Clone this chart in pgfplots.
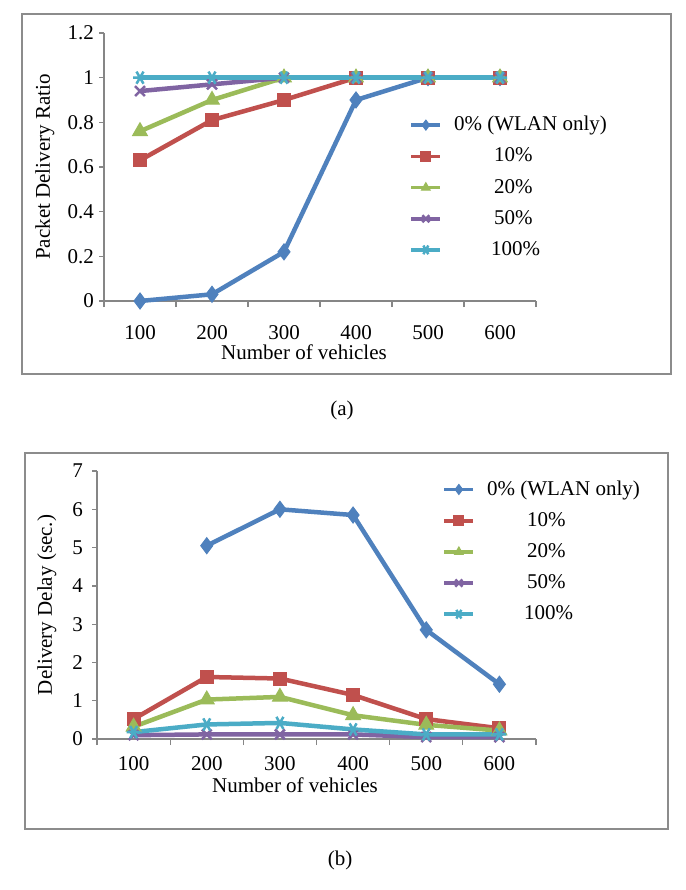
\documentclass[border=0pt]{standalone}
\usepackage{fontspec}
\setmainfont{Liberation Serif}
\usepackage{pgfplots}
\pgfplotsset{compat=1.18}
\definecolor{sblue}{HTML}{4F81BD}
\definecolor{sred}{HTML}{C0504D}
\definecolor{sgreen}{HTML}{9BBB59}
\definecolor{spurple}{HTML}{8064A2}
\definecolor{scyan}{HTML}{4BACC6}
\definecolor{axisgray}{HTML}{868686}
\definecolor{framegray}{HTML}{8C8C8C}

\pgfplotsset{
  excel/.style={
    scale only axis,
    axis lines*=left,
    axis line style={axisgray, line width=1.3pt},
    xmin=-0.5, xmax=5.5,
    xtick={0,...,5},
    xticklabels={100,200,300,400,500,600},
    major x tick style={draw=none},
    minor xtick={-0.5,0.5,...,5.5},
    minor x tick style={axisgray, line width=1.3pt},
    minor tick length=6pt,
    major tick length=5pt,
    y tick style={axisgray, line width=1.3pt},
    tick align=outside,
    /pgf/number format/assume math mode=true,
    tick label style={font=\fontsize{21}{25}\selectfont},
    label style={font=\fontsize{21}{25}\selectfont},
    xlabel={Number of vehicles},
    clip=false,
    every axis plot/.append style={line width=4.5pt},
    legend cell align=left,
    legend image code/.code={
      \draw[mark repeat=2, mark phase=2, #1, line width=3.5pt, mark size=5pt]
        plot coordinates {(0pt,0pt) (14.5pt,0pt) (29pt,0pt)};},
    legend style={draw=none, fill=none, anchor=north west,
      font=\fontsize{21}{25}\selectfont, row sep=10pt,
      /tikz/every odd column/.append style={column sep=10pt}},
  },
  s0/.style={sblue, mark=diamond*, mark size=8pt, mark options={solid, line width=1pt}},
  s1/.style={sred, mark=square*, mark size=6.5pt, mark options={solid, line width=1pt}},
  s2/.style={sgreen, mark=triangle*, mark size=8.5pt, mark options={solid, line width=1pt}},
  s3/.style={spurple, mark=x, mark size=7pt, mark options={solid, line width=2.5pt}},
  s4/.style={scyan, mark=asterisk, mark size=7pt, mark options={solid, rotate=90, line width=2.5pt}},
}

\begin{document}
\fontsize{21}{25}\selectfont
\begin{tikzpicture}[x=1pt, y=1pt, font=\fontsize{21}{25}\selectfont]
\path[use as bounding box, fill=white] (0,0) rectangle (685,-890);
\draw[framegray, line width=1.4pt] (22,-14) rectangle (671,-374);
\draw[framegray, line width=1.4pt] (25,-453) rectangle (668,-829);
\node at (342,-410) {(a)};
\node at (340,-860) {(b)};

% (a) packet delivery ratio
\begin{axis}[excel,
    at={(104pt,-301pt)}, anchor=south west,
    width=432pt, height=268pt,
    ymin=0, ymax=1.2,
    ytick={0,0.2,0.4,0.6,0.8,1,1.2},
    yticklabels={0,0.2,0.4,0.6,0.8,1,1.2},
    ylabel={Packet Delivery Ratio},
    ylabel style={at={(axis description cs:-0.137,0.5)}, anchor=center},
    xlabel style={at={(axis description cs:0.463,-0.19)}, anchor=center},
    xticklabel style={yshift=-12pt},
    yticklabel style={xshift=2pt},
    legend style={at={(axis description cs:0.70,0.705)}},
  ]
  \addplot[s0] coordinates {(0,0) (1,0.03) (2,0.22) (3,0.9) (4,1) (5,1)};
  \addplot[s1] coordinates {(0,0.63) (1,0.81) (2,0.9) (3,1) (4,1) (5,1)};
  \addplot[s2] coordinates {(0,0.76) (1,0.9) (2,1) (3,1) (4,1) (5,1)};
  \addplot[s3] coordinates {(0,0.94) (1,0.97) (2,1) (3,1) (4,1) (5,1)};
  \addplot[s4] coordinates {(0,1) (1,1) (2,1) (3,1) (4,1) (5,1)};
  \legend{0\% (WLAN only), \hspace{40pt}10\%, \hspace{40pt}20\%,
          \hspace{40pt}50\%, \hspace{37pt}100\%}
\end{axis}

% (b) delivery delay
\begin{axis}[excel,
    at={(97pt,-739pt)}, anchor=south west,
    width=439pt, height=268pt,
    ymin=0, ymax=7,
    ytick={0,...,7},
    ylabel={Delivery Delay (sec.)},
    ylabel style={at={(axis description cs:-0.114,0.5)}, anchor=center},
    xlabel style={at={(axis description cs:0.451,-0.172)}, anchor=center},
    xticklabel style={yshift=-5pt},
    yticklabel style={xshift=-2pt},
    legend style={at={(axis description cs:0.78,0.98)}},
  ]
  \addplot[s0] coordinates {(1,5.05) (2,6.0) (3,5.85) (4,2.85) (5,1.43)};
  \addplot[s1] coordinates {(0,0.52) (1,1.62) (2,1.58) (3,1.15) (4,0.52) (5,0.28)};
  \addplot[s2] coordinates {(0,0.32) (1,1.03) (2,1.1) (3,0.62) (4,0.37) (5,0.22)};
  \addplot[s3] coordinates {(0,0.1) (1,0.12) (2,0.12) (3,0.12) (4,0.05) (5,0.05)};
  \addplot[s4] coordinates {(0,0.18) (1,0.38) (2,0.42) (3,0.25) (4,0.12) (5,0.12)};
  \legend{0\% (WLAN only), \hspace{40pt}10\%, \hspace{40pt}20\%,
          \hspace{40pt}50\%, \hspace{37pt}100\%}
\end{axis}
\end{tikzpicture}
\end{document}
